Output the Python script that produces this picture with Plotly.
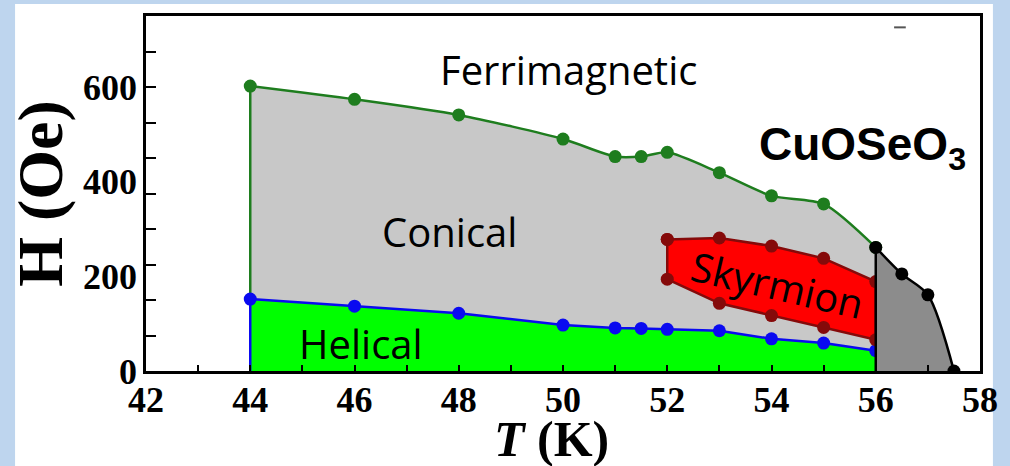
import plotly.graph_objects as go

# ---------------- data ----------------
T_upper = [44, 46, 48, 50, 51, 51.5, 52, 53, 54, 55, 56]
H_upper = [602, 574, 541, 490, 453, 453, 462, 419, 370, 353, 261]

T_helical = [44, 46, 48, 50, 51, 51.5, 52, 53, 54, 55, 56]
H_helical = [152, 137, 122, 97, 91, 90, 88, 85, 68, 59, 43]

T_sky = [52, 53, 54, 55, 56, 56, 55, 54, 53, 52, 52]
H_sky = [278, 281, 264, 238, 189, 66, 92, 117, 143, 194, 278]

T_fm = [56, 56.5, 57, 57.5]
H_fm = [261, 205, 161, 0]

X_TICKS = [42, 44, 46, 48, 50, 52, 54, 56, 58]
Y_TICKS = [0, 200, 400, 600]

# ---------------- styling ----------------
GRAY = "#C8C8C8"
DGRAY = "#8C8C8C"
GREEN_FILL = "#00FF00"
GREEN_LINE = "#1E7D1E"
BLUE = "#0A0AF0"
RED = "#FF0000"
DRED = "#850A0A"
MS = 13

fig = go.Figure()

# conical (gray) region under upper boundary
fig.add_trace(go.Scatter(x=T_upper, y=H_upper, mode="lines", fill="tozeroy",
                         fillcolor=GRAY, line=dict(color=GREEN_LINE, width=2.5, shape="spline", smoothing=0.7),
                         showlegend=False, hoverinfo="skip"))
# helical (green) region
fig.add_trace(go.Scatter(x=T_helical, y=H_helical, mode="lines", fill="tozeroy",
                         fillcolor=GREEN_FILL, line=dict(color=BLUE, width=2.5),
                         showlegend=False, hoverinfo="skip"))
# left vertical boundaries at lowest T
fig.add_trace(go.Scatter(x=[T_upper[0], T_upper[0]], y=[H_helical[0], H_upper[0]], mode="lines",
                         line=dict(color=GREEN_LINE, width=2.5), showlegend=False, hoverinfo="skip"))
fig.add_trace(go.Scatter(x=[T_helical[0], T_helical[0]], y=[0, H_helical[0]], mode="lines",
                         line=dict(color=BLUE, width=2.5), showlegend=False, hoverinfo="skip"))
# markers
fig.add_trace(go.Scatter(x=T_upper, y=H_upper, mode="markers",
                         marker=dict(color=GREEN_LINE, size=MS), showlegend=False, hoverinfo="skip"))
fig.add_trace(go.Scatter(x=T_helical, y=H_helical, mode="markers",
                         marker=dict(color=BLUE, size=MS), showlegend=False, hoverinfo="skip"))
# skyrmion pocket
fig.add_trace(go.Scatter(x=T_sky, y=H_sky, mode="lines+markers", fill="toself",
                         fillcolor=RED, line=dict(color=DRED, width=2.5),
                         marker=dict(color=DRED, size=MS), showlegend=False, hoverinfo="skip"))
# dark gray region near Tc
fig.add_trace(go.Scatter(x=T_fm, y=H_fm, mode="lines", fill="tozeroy", fillcolor=DGRAY,
                         line=dict(color="black", width=2.5, shape="spline", smoothing=0.8),
                         showlegend=False, hoverinfo="skip"))
fig.add_trace(go.Scatter(x=[T_fm[0], T_fm[0]], y=[0, H_fm[0]], mode="lines",
                         line=dict(color="black", width=2.5), showlegend=False, hoverinfo="skip"))
fig.add_trace(go.Scatter(x=T_fm, y=H_fm, mode="markers",
                         marker=dict(color="black", size=MS), showlegend=False, hoverinfo="skip"))
# invisible trace to carry the label axis
fig.add_trace(go.Scatter(x=[None], y=[None], yaxis="y2", showlegend=False, hoverinfo="skip"))

serif_bold = dict(family="Liberation Serif", size=36, color="black", weight="bold")
sans = dict(family="Open Sans", size=40, color="black")

fig.update_layout(
    width=1010, height=466, autosize=False,
    margin=dict(l=146, r=24, t=16, b=95, pad=0),
    paper_bgcolor="#BED5EE",
    plot_bgcolor="rgba(0,0,0,0)",
    xaxis=dict(range=[42, 58], tickvals=X_TICKS, ticktext=[str(v) for v in X_TICKS],
               ticks="inside", ticklen=6, tickwidth=2, tickcolor="black",
               minor=dict(dtick=1, tick0=42, ticks="inside", ticklen=6, tickwidth=2, tickcolor="black"),
               showline=True, linewidth=3, linecolor="black", mirror=True,
               showgrid=False, zeroline=False, tickfont=serif_bold, ticklabelstandoff=-5),
    yaxis=dict(range=[0, 750], tickvals=[75 * i for i in range(10)], showticklabels=False,
               ticks="inside", ticklen=10, tickwidth=2, tickcolor="black",
               showline=True, linewidth=3, linecolor="black", mirror=True,
               showgrid=False, zeroline=False),
    yaxis2=dict(range=[0, 750], overlaying="y", side="left", tickvals=Y_TICKS,
                ticktext=[str(v) for v in Y_TICKS], ticks="", showline=False,
                showgrid=False, zeroline=False, tickfont=serif_bold, ticklabelstandoff=8),
    shapes=[
        dict(type="rect", xref="paper", yref="paper", x0=-0.157, x1=1.0155, y0=-0.27, y1=1.0338,
             fillcolor="white", line=dict(width=0), layer="below"),
        dict(type="line", xref="paper", yref="paper", x0=0.897, x1=0.911, y0=0.968, y1=0.968,
             line=dict(color="#555555", width=2)),
    ],
    annotations=[
        dict(text="Ferrimagnetic", x=50.1, y=636, xref="x", yref="y", showarrow=False, font=sans),
        dict(text="Conical", x=47.82, y=294, xref="x", yref="y", showarrow=False, font=sans),
        dict(text="Helical", x=46.12, y=58, xref="x", yref="y", showarrow=False, font=sans),
        dict(text="Skyrmion", x=54.11, y=183, xref="x", yref="y", showarrow=False, font=sans,
             textangle=13),
        dict(text="CuOSeO<sub>3</sub>", x=55.75, y=472, xref="x", yref="y", showarrow=False,
             font=dict(family="Liberation Sans", size=46, color="black", weight="bold")),
        dict(text="H (Oe)", x=39, y=193, xref="paper", yref="paper", showarrow=False,
             xanchor="center", yanchor="middle",
             textangle=-90, font=dict(family="Liberation Serif", size=64, color="black", weight="bold")),
        dict(text="<i>T</i> (K)", x=554, y=439, xref="paper", yref="paper", showarrow=False,
             xanchor="center", yanchor="middle",
             font=dict(family="Liberation Serif", size=50, color="black", weight="bold")),
    ],
)

# convert pixel positions of axis titles to paper coordinates
for ann in fig.layout.annotations:
    if ann.xref == "paper":
        ann.x = (ann.x - 146) / 840
        ann.y = (371 - ann.y) / 355

fig.write_html("out.html")
